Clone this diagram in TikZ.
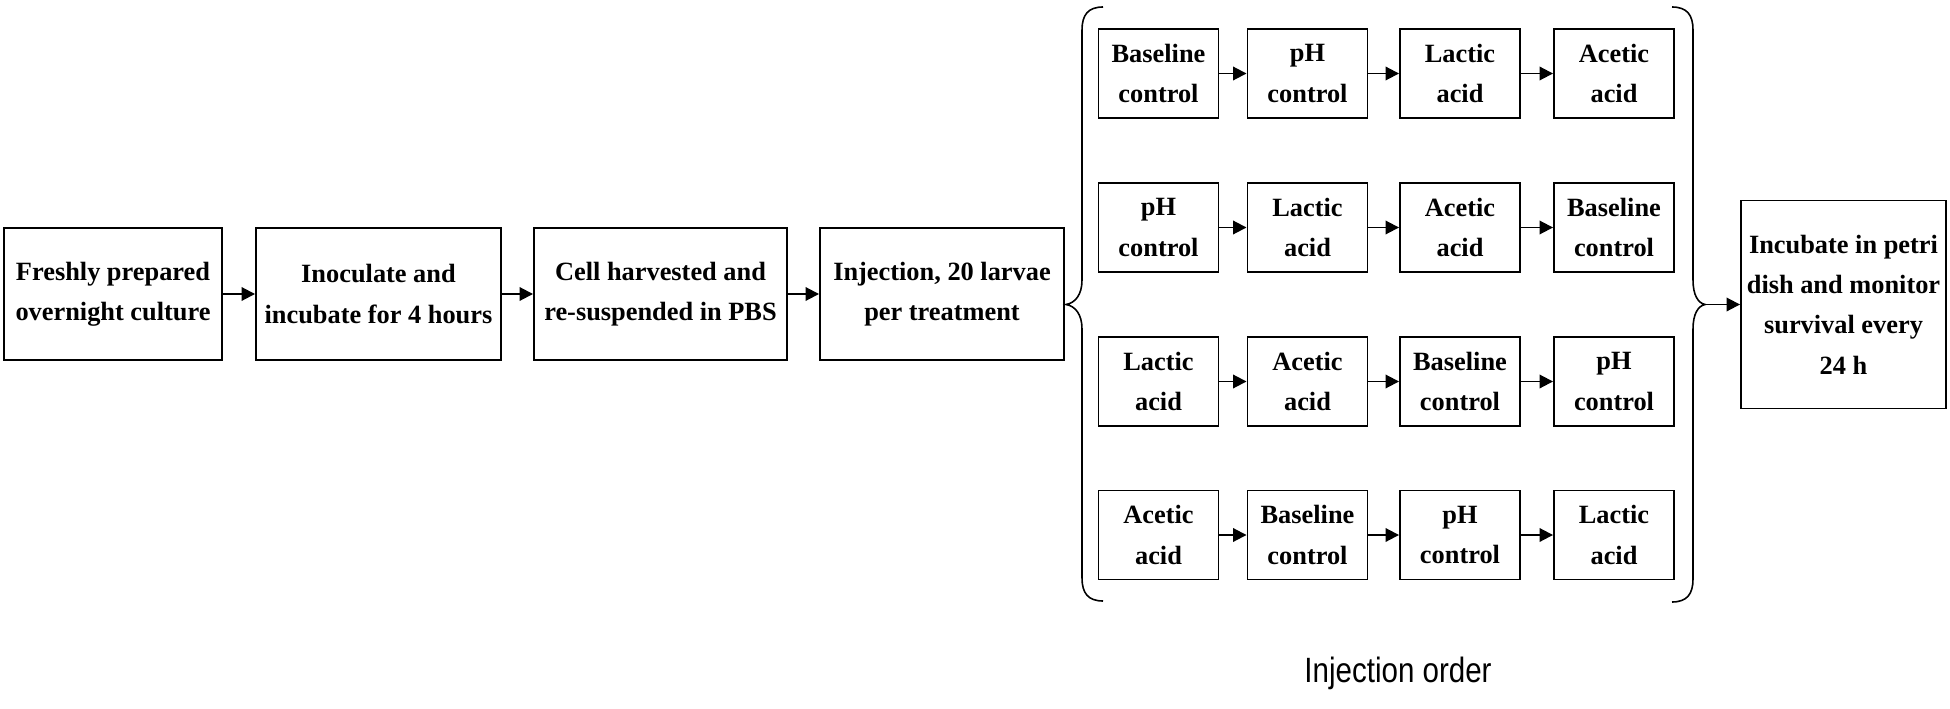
\documentclass[tikz,border=0pt]{standalone}
\usepackage{fontspec}
\setmainfont{Liberation Serif}
\newfontfamily\labelfont[FakeStretch=0.84]{Liberation Sans}
\usetikzlibrary{arrows.meta}

\begin{document}
\begin{tikzpicture}
		% Define the looks of boxes, arrows and braces
		\tikzset{
			mainbox/.style={draw, line width=1.1pt, align=center, inner sep=0pt,
				minimum height=2.64cm,
				font=\fontsize{15pt}{23pt}\selectfont\bfseries},
			orderbox/.style={draw, line width=1.1pt, align=center, inner sep=0pt,
				minimum width=2.4cm, minimum height=1.78cm,
				font=\fontsize{15pt}{23pt}\selectfont\bfseries},
			flow/.style={line width=1.1pt, -{Triangle[length=0.27cm, width=0.27cm]}},
			curly/.style={line width=0.9pt}
		}
		
		% Fix the page size
		\useasboundingbox (0,0) rectangle (39,-14.18);
		
		% Main steps
		\node[mainbox, minimum width=4.36cm] (fresh) at (2.26,-5.88) {Freshly prepared\\overnight culture};
		\node[mainbox, minimum width=4.9cm] (inoc) at (7.57,-5.88) {Inoculate and\\incubate for 4 hours};
		\node[mainbox, minimum width=5.06cm] (harvest) at (13.21,-5.88) {Cell harvested and\\re-suspended in PBS};
		\node[mainbox, minimum width=4.88cm] (inject) at (18.84,-5.88) {Injection, 20 larvae\\per treatment};
		
		\draw[flow] (fresh) -- (inoc);
		\draw[flow] (inoc) -- (harvest);
		\draw[flow] (harvest) -- (inject);
		
		%first row
		\node[orderbox] (r1a) at (23.17,-1.47) {Baseline\\control};
		\node[orderbox] (r1b) at (26.15,-1.47) {pH\\control};
		\node[orderbox] (r1c) at (29.2,-1.47) {Lactic\\acid};
		\node[orderbox] (r1d) at (32.28,-1.47) {Acetic\\acid};
		
		%second row
		\node[orderbox] (r2a) at (23.17,-4.55) {pH\\control};
		\node[orderbox] (r2b) at (26.15,-4.55) {Lactic\\acid};
		\node[orderbox] (r2c) at (29.2,-4.55) {Acetic\\acid};
		\node[orderbox] (r2d) at (32.28,-4.55) {Baseline\\control};
		
		%third row
		\node[orderbox] (r3a) at (23.17,-7.63) {Lactic\\acid};
		\node[orderbox] (r3b) at (26.15,-7.63) {Acetic\\acid};
		\node[orderbox] (r3c) at (29.2,-7.63) {Baseline\\control};
		\node[orderbox] (r3d) at (32.28,-7.63) {pH\\control};
		
		%fourth row
		\node[orderbox] (r4a) at (23.17,-10.7) {Acetic\\acid};
		\node[orderbox] (r4b) at (26.15,-10.7) {Baseline\\control};
		\node[orderbox] (r4c) at (29.2,-10.7) {pH\\control};
		\node[orderbox] (r4d) at (32.28,-10.7) {Lactic\\acid};
		
		% Arrows inside the rows
		\draw[flow] (r1a) -- (r1b);
		\draw[flow] (r1b) -- (r1c);
		\draw[flow] (r1c) -- (r1d);
		\draw[flow] (r2a) -- (r2b);
		\draw[flow] (r2b) -- (r2c);
		\draw[flow] (r2c) -- (r2d);
		\draw[flow] (r3a) -- (r3b);
		\draw[flow] (r3b) -- (r3c);
		\draw[flow] (r3c) -- (r3d);
		\draw[flow] (r4a) -- (r4b);
		\draw[flow] (r4b) -- (r4c);
		\draw[flow] (r4c) -- (r4d);
		
		% left brace
		\draw[curly] (22.06,-0.14) .. controls (21.76,-0.14) and (21.64,-0.3) .. (21.64,-0.6)
			-- (21.64,-5.6) .. controls (21.64,-5.9) and (21.5,-6.06) .. (21.32,-6.09)
			.. controls (21.5,-6.12) and (21.64,-6.28) .. (21.64,-6.58)
			-- (21.64,-11.56) .. controls (21.64,-11.86) and (21.76,-12.02) .. (22.06,-12.02);
		
		% right brace
		\draw[curly] (33.44,-0.14) .. controls (33.74,-0.14) and (33.86,-0.3) .. (33.86,-0.6)
			-- (33.86,-5.6) .. controls (33.86,-5.9) and (33.96,-6.06) .. (34.1,-6.09)
			.. controls (33.96,-6.12) and (33.86,-6.28) .. (33.86,-6.58)
			-- (33.86,-11.58) .. controls (33.86,-11.88) and (33.74,-12.04) .. (33.44,-12.04);
		\coordinate (rtip) at (34.1,-6.09);
		
		% Last step
		\node[mainbox, minimum width=4.1cm, minimum height=4.16cm] (final) at (36.87,-6.09) {Incubate in petri\\dish and monitor\\survival every\\24 h};
		\draw[flow] (rtip) -- (final);
		
		\node[font=\labelfont\fontsize{20pt}{24pt}\selectfont] (orderlabel) at (27.96,-13.46) {Injection order};
	\end{tikzpicture}
\end{document}
